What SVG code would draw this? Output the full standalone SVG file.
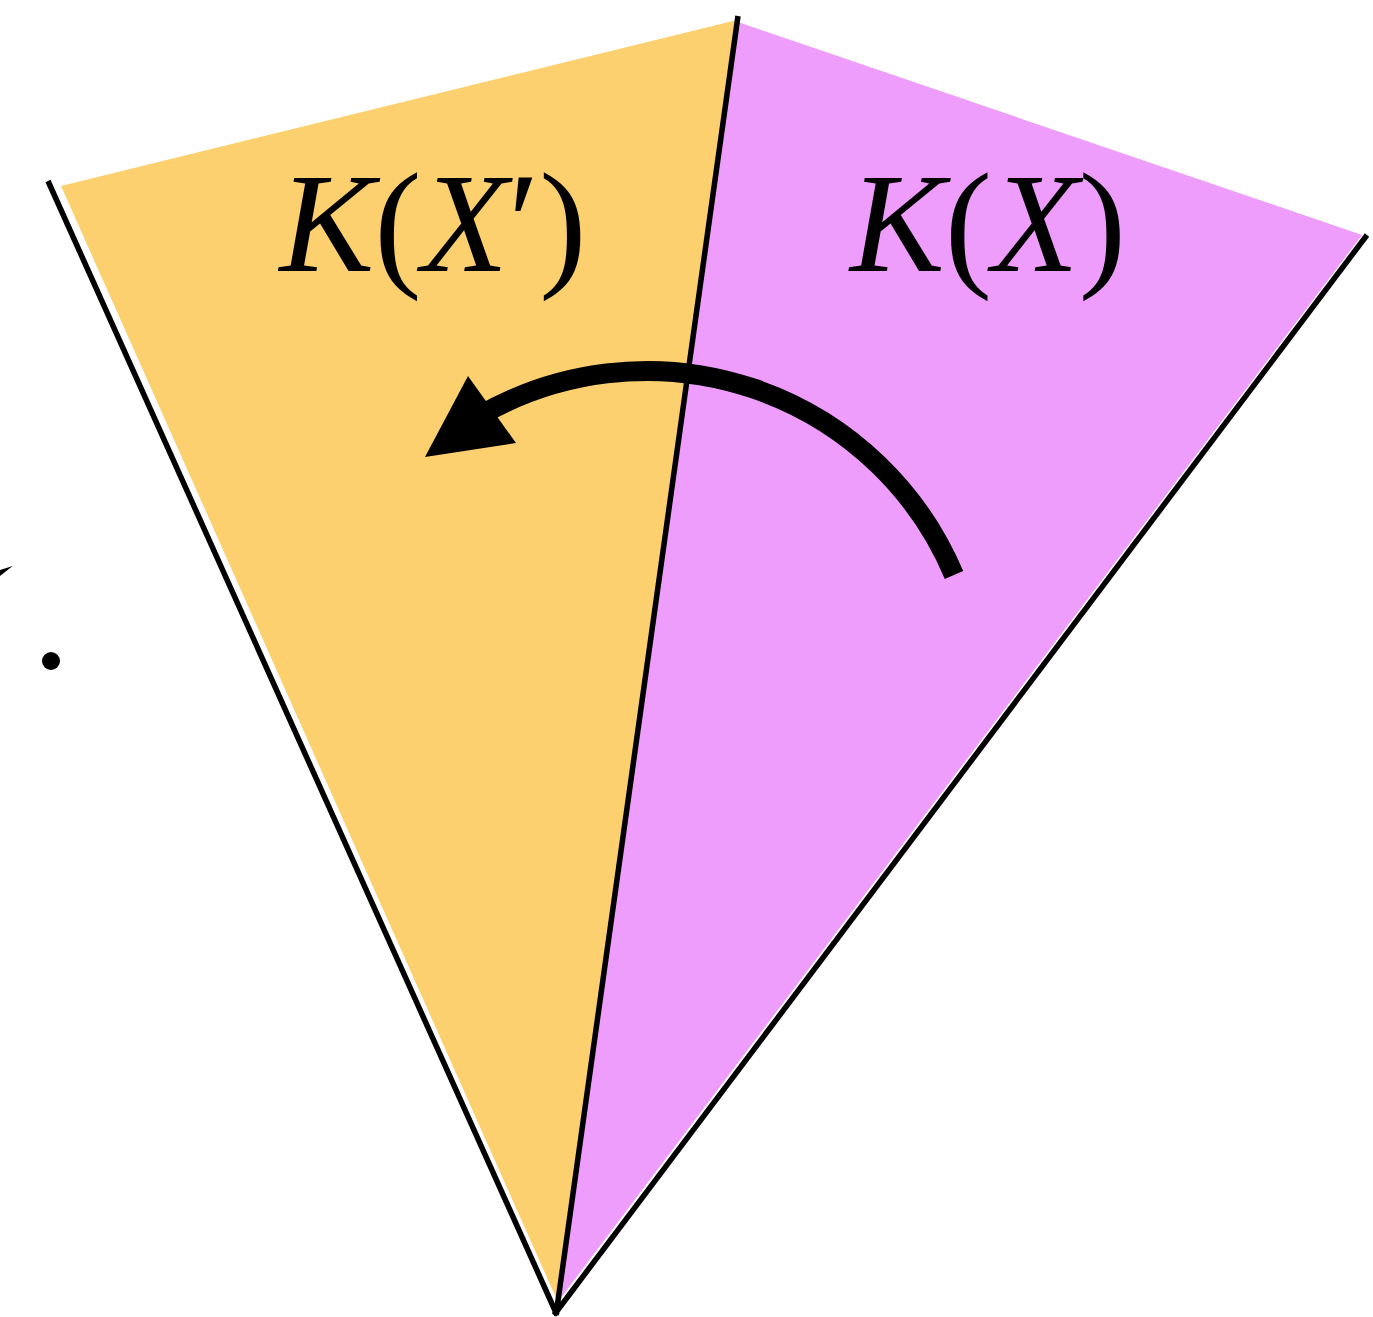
<svg xmlns="http://www.w3.org/2000/svg" width="1373" height="1317" viewBox="0 0 1373 1317">
<style>
.edge{stroke:#000;stroke-width:5.5;fill:none;stroke-linecap:butt}
.lbl{font-family:"Liberation Serif","Times New Roman",serif;font-size:142px;fill:#000}
.it{font-style:italic}
</style>
<rect width="1373" height="1317" fill="#fff"/>
<g id="region-KXp">
<polygon points="61,186 737,20 557,1300" fill="#FDD06F"/>
</g>
<g id="region-KX">
<polygon points="738,22 1362,235 560,1299" fill="#EF9DFD"/>
</g>
<g id="connectors">
<line class="edge" x1="48" y1="181" x2="557" y2="1315"/>
<line class="edge" x1="738" y1="16" x2="556" y2="1315"/>
<line class="edge" x1="1367" y1="235" x2="554" y2="1315"/>
<path d="M 954 575 A 333.5 333.5 0 0 0 479.8 415.7" stroke="#000" stroke-width="20" fill="none"/>
<polygon points="425,457 468,376 516,443" fill="#000"/>
</g>
<g id="label-KXp">
<text class="lbl" x="433" y="271" text-anchor="middle"><tspan class="it">K</tspan>(<tspan class="it">X</tspan>′)</text>
</g>
<g id="label-KX">
<text class="lbl" x="988" y="271" text-anchor="middle"><tspan class="it">K</tspan>(<tspan class="it">X</tspan>)</text>
</g>
<g id="fragment">
<polygon points="0,570 12.7,566 0,576" fill="#000"/>
<circle cx="51" cy="661" r="9" fill="#000"/>
</g>
</svg>
